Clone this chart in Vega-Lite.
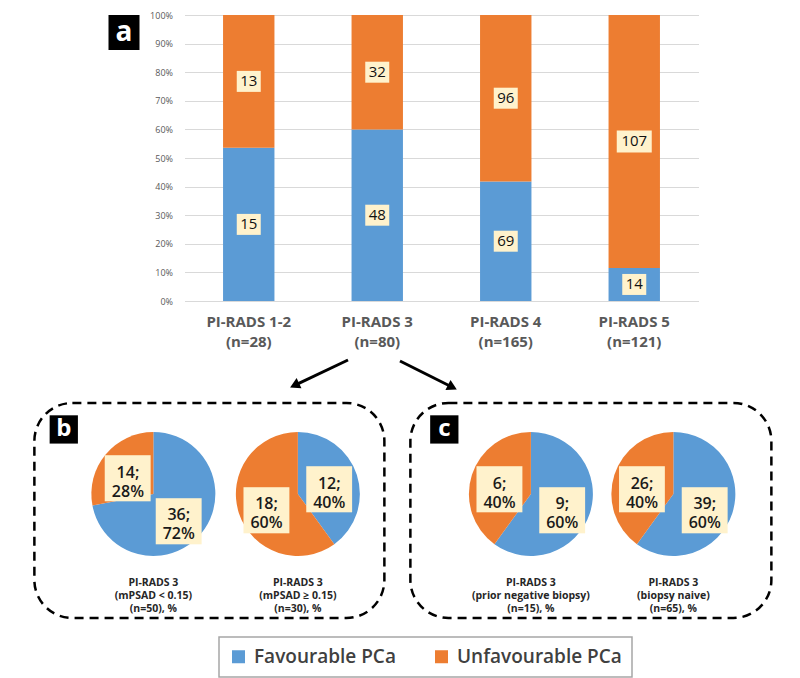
{
  "$schema": "https://vega.github.io/schema/vega-lite/v6.json",
  "background": "white",
  "padding": {"left": 33, "top": 11, "right": 0, "bottom": 0},
  "spacing": 0,
  "center": true,
  "datasets": {
    "bars": [
      {"category": "PI-RADS 1-2 (n=28)", "outcome": "Favourable PCa", "count": 15},
      {"category": "PI-RADS 1-2 (n=28)", "outcome": "Unfavourable PCa", "count": 13},
      {"category": "PI-RADS 3 (n=80)", "outcome": "Favourable PCa", "count": 48},
      {"category": "PI-RADS 3 (n=80)", "outcome": "Unfavourable PCa", "count": 32},
      {"category": "PI-RADS 4 (n=165)", "outcome": "Favourable PCa", "count": 69},
      {"category": "PI-RADS 4 (n=165)", "outcome": "Unfavourable PCa", "count": 96},
      {"category": "PI-RADS 5 (n=121)", "outcome": "Favourable PCa", "count": 14},
      {"category": "PI-RADS 5 (n=121)", "outcome": "Unfavourable PCa", "count": 107}
    ],
    "pieB": [
      {"pie": "mPSAD < 0.15", "caption": "PI-RADS 3\n(mPSAD < 0.15)\n(n=50), %", "outcome": "Favourable PCa", "count": 36, "label": "36;\n72%"},
      {"pie": "mPSAD < 0.15", "caption": "PI-RADS 3\n(mPSAD < 0.15)\n(n=50), %", "outcome": "Unfavourable PCa", "count": 14, "label": "14;\n28%"},
      {"pie": "mPSAD ≥ 0.15", "caption": "PI-RADS 3\n(mPSAD ≥ 0.15)\n(n=30), %", "outcome": "Favourable PCa", "count": 12, "label": "12;\n40%"},
      {"pie": "mPSAD ≥ 0.15", "caption": "PI-RADS 3\n(mPSAD ≥ 0.15)\n(n=30), %", "outcome": "Unfavourable PCa", "count": 18, "label": "18;\n60%"}
    ],
    "pieC": [
      {"pie": "prior negative biopsy", "caption": "PI-RADS 3\n(prior negative biopsy)\n(n=15), %", "outcome": "Favourable PCa", "count": 9, "label": "9;\n60%"},
      {"pie": "prior negative biopsy", "caption": "PI-RADS 3\n(prior negative biopsy)\n(n=15), %", "outcome": "Unfavourable PCa", "count": 6, "label": "6;\n40%"},
      {"pie": "biopsy naive", "caption": "PI-RADS 3\n(biopsy naive)\n(n=65), %", "outcome": "Favourable PCa", "count": 39, "label": "39;\n60%"},
      {"pie": "biopsy naive", "caption": "PI-RADS 3\n(biopsy naive)\n(n=65), %", "outcome": "Unfavourable PCa", "count": 26, "label": "26;\n40%"}
    ]
  },
  "vconcat": [
    {
      "spacing": 10,
      "hconcat": [
        {
          "width": 31, "height": 35,
          "view": {"fill": "black", "stroke": null},
          "data": {"values": [{"panel": "a"}]},
          "mark": {"type": "text", "color": "white", "fontSize": 28, "fontWeight": "bold", "font": "Open Sans"},
          "encoding": {"text": {"field": "panel"}}
        },
        {
          "width": 514, "height": 286,
          "data": {"name": "bars"},
          "encoding": {
            "x": {"field": "category", "type": "nominal", "sort": null,
              "scale": {"paddingInner": 0.6, "paddingOuter": 0.3},
              "axis": {"title": null, "domain": false, "ticks": false, "labelAngle": 0, "labelFontSize": 15, "labelFontWeight": "bold", "labelColor": "#595959", "labelPadding": 13, "labelLineHeight": 20,
                "labelExpr": "[slice(datum.label, 0, indexof(datum.label, ' (')), slice(datum.label, indexof(datum.label, ' (') + 1)]"}},
            "order": {"field": "outcome", "sort": "ascending"}
          },
          "layer": [
            {
              "mark": {"type": "bar"},
              "encoding": {
                "y": {"field": "count", "type": "quantitative", "stack": "normalize", "scale": {"domain": [0, 1], "nice": false},
                  "axis": {"title": null, "format": ".0%", "tickCount": 10, "labelOverlap": false, "labelFlush": false, "domain": false, "ticks": false, "labelFontSize": 9, "labelColor": "#595959", "labelPadding": 12, "gridColor": "#D9D9D9"}},
                "color": {"field": "outcome", "type": "nominal", "title": null, "scale": {"domain": ["Favourable PCa", "Unfavourable PCa"], "range": ["#5B9BD5", "#ED7D31"]}}
              }
            },
            {
              "mark": {"type": "point", "filled": true, "opacity": 1, "color": "#FFF2CC", "strokeWidth": 0, "size": 100},
              "encoding": {
                "y": {"field": "count", "type": "quantitative", "stack": "normalize", "bandPosition": 0.5},
                "shape": {"condition": {"test": "datum.count >= 100", "value": "M-3.5,-2.2H3.5V2.2H-3.5Z"}, "value": "M-2.4,-2.1H2.4V2.1H-2.4Z"}
              }
            },
            {
              "mark": {"type": "text", "fontSize": 15, "color": "#111111", "baseline": "middle"},
              "encoding": {
                "y": {"field": "count", "type": "quantitative", "stack": "normalize", "bandPosition": 0.5},
                "text": {"field": "count", "type": "quantitative"}
              }
            }
          ]
        }
      ]
    },
    {
      "width": 733, "height": 52,
      "data": {"values": [{"arrow": "to panel b"}, {"arrow": "to panel c"}]},
      "layer": [
        {
          "transform": [{"filter": "datum.arrow == 'to panel b'"}],
          "mark": {"type": "rule", "strokeWidth": 3, "color": "black"},
          "encoding": {
            "x": {"datum": 0.4243, "type": "quantitative", "scale": {"domain": [0, 1]}, "axis": null},
            "x2": {"datum": 0.3514},
            "y": {"datum": 0.2115, "type": "quantitative", "scale": {"domain": [0, 1], "reverse": true}, "axis": null},
            "y2": {"datum": 0.698}
          }
        },
        {
          "transform": [{"filter": "datum.arrow == 'to panel b'"}],
          "mark": {"type": "point", "shape": "triangle-up", "angle": 244.7, "size": 130, "filled": true, "opacity": 1, "color": "black"},
          "encoding": {
            "x": {"datum": 0.3514, "type": "quantitative"},
            "y": {"datum": 0.698, "type": "quantitative"}
          }
        },
        {
          "transform": [{"filter": "datum.arrow == 'to panel c'"}],
          "mark": {"type": "rule", "strokeWidth": 3, "color": "black"},
          "encoding": {
            "x": {"datum": 0.4952, "type": "quantitative"},
            "x2": {"datum": 0.5667},
            "y": {"datum": 0.231, "type": "quantitative"},
            "y2": {"datum": 0.735}
          }
        },
        {
          "transform": [{"filter": "datum.arrow == 'to panel c'"}],
          "mark": {"type": "point", "shape": "triangle-up", "angle": 116.6, "size": 130, "filled": true, "opacity": 1, "color": "black"},
          "encoding": {
            "x": {"datum": 0.5667, "type": "quantitative"},
            "y": {"datum": 0.735, "type": "quantitative"}
          }
        }
      ]
    },
    {
      "spacing": 22,
      "hconcat": [
        {
          "width": 350, "height": 215,
          "view": {"stroke": "black", "strokeWidth": 2.5, "strokeDash": [9, 6], "cornerRadius": 38},
          "resolve": {"scale": {"x": "independent", "y": "independent"}},
          "layer": [
            {
              "data": {"name": "pieB"},
              "encoding": {
                "x": {"field": "pie", "type": "nominal", "scale": {"domain": ["mPSAD < 0.15", "mPSAD ≥ 0.15"], "padding": 0.711, "align": 0.579}, "axis": null},
                "y": {"datum": "pie", "type": "nominal", "scale": {"domain": ["pie", "caption"], "padding": 0.708, "align": 0.722}, "axis": null},
                "order": {"field": "outcome", "sort": "ascending"},
                "detail": {"field": "outcome"}
              },
              "layer": [
                {"transform": [{"filter": "datum.pie == 'mPSAD < 0.15'"}], "mark": {"type": "arc", "outerRadius": 62},
                  "encoding": {"theta": {"field": "count", "type": "quantitative", "stack": "normalize", "scale": {"domain": [0, 1]}},
                    "color": {"field": "outcome", "type": "nominal", "title": null, "scale": {"domain": ["Favourable PCa", "Unfavourable PCa"], "range": ["#5B9BD5", "#ED7D31"]}}}},
                {"transform": [{"filter": "datum.pie == 'mPSAD ≥ 0.15'"}], "mark": {"type": "arc", "outerRadius": 62},
                  "encoding": {"theta": {"field": "count", "type": "quantitative", "stack": "normalize"},
                    "color": {"field": "outcome", "type": "nominal", "title": null}}},
                {"transform": [{"filter": "datum.pie == 'mPSAD < 0.15'"}], "mark": {"type": "text", "text": "■", "radius": 33, "fontSize": 60, "dy": 3.5, "font": "DejaVu Sans", "color": "#FFF2CC", "baseline": "middle"},
                  "encoding": {"theta": {"field": "count", "type": "quantitative", "stack": "normalize"}}},
                {"transform": [{"filter": "datum.pie == 'mPSAD ≥ 0.15'"}], "mark": {"type": "text", "text": "■", "radius": 33, "fontSize": 60, "dy": 3.5, "font": "DejaVu Sans", "color": "#FFF2CC", "baseline": "middle"},
                  "encoding": {"theta": {"field": "count", "type": "quantitative", "stack": "normalize"}}},
                {"transform": [{"filter": "datum.pie == 'mPSAD < 0.15'"}], "mark": {"type": "text", "radius": 33, "fontSize": 16, "fontWeight": 600, "lineBreak": "\n", "lineHeight": 19, "color": "#1a1a1a", "baseline": "middle"},
                  "encoding": {"theta": {"field": "count", "type": "quantitative", "stack": "normalize"}, "text": {"field": "label"}}},
                {"transform": [{"filter": "datum.pie == 'mPSAD ≥ 0.15'"}], "mark": {"type": "text", "radius": 33, "fontSize": 16, "fontWeight": 600, "lineBreak": "\n", "lineHeight": 19, "color": "#1a1a1a", "baseline": "middle"},
                  "encoding": {"theta": {"field": "count", "type": "quantitative", "stack": "normalize"}, "text": {"field": "label"}}},
                {"transform": [{"filter": "datum.outcome == 'Favourable PCa'"}], "mark": {"type": "text", "fontSize": 10.5, "fontWeight": "bold", "lineBreak": "\n", "lineHeight": 13, "color": "#262626", "baseline": "middle"},
                  "encoding": {"y": {"datum": "caption", "type": "nominal"}, "text": {"field": "caption"}}}
              ]
            },
            {
              "data": {"values": [{"panel": "b"}]},
              "encoding": {
                "x": {"datum": 0.084, "type": "quantitative", "scale": {"domain": [0, 1]}, "axis": null},
                "y": {"datum": 0.123, "type": "quantitative", "scale": {"domain": [0, 1], "reverse": true}, "axis": null}
              },
              "layer": [
                {"mark": {"type": "point", "shape": "square", "filled": true, "opacity": 1, "color": "black", "size": 800}},
                {"mark": {"type": "text", "color": "white", "fontSize": 24, "fontWeight": "bold", "baseline": "middle"}, "encoding": {"text": {"field": "panel"}}}
              ]
            }
          ]
        },
        {
          "width": 361, "height": 215,
          "view": {"stroke": "black", "strokeWidth": 2.5, "strokeDash": [9, 6], "cornerRadius": 38},
          "resolve": {"scale": {"x": "independent", "y": "independent"}},
          "layer": [
            {
              "data": {"name": "pieC"},
              "encoding": {
                "x": {"field": "pie", "type": "nominal", "scale": {"domain": ["prior negative biopsy", "biopsy naive"], "padding": 0.767, "align": 0.5515}, "axis": null},
                "y": {"datum": "pie", "type": "nominal", "scale": {"domain": ["pie", "caption"], "padding": 0.708, "align": 0.722}, "axis": null},
                "order": {"field": "outcome", "sort": "ascending"},
                "detail": {"field": "outcome"}
              },
              "layer": [
                {"transform": [{"filter": "datum.pie == 'prior negative biopsy'"}], "mark": {"type": "arc", "outerRadius": 62},
                  "encoding": {"theta": {"field": "count", "type": "quantitative", "stack": "normalize"},
                    "color": {"field": "outcome", "type": "nominal", "title": null}}},
                {"transform": [{"filter": "datum.pie == 'biopsy naive'"}], "mark": {"type": "arc", "outerRadius": 62},
                  "encoding": {"theta": {"field": "count", "type": "quantitative", "stack": "normalize"},
                    "color": {"field": "outcome", "type": "nominal", "title": null}}},
                {"transform": [{"filter": "datum.pie == 'prior negative biopsy'"}], "mark": {"type": "text", "text": "■", "radius": 33, "fontSize": 60, "dy": 3.5, "font": "DejaVu Sans", "color": "#FFF2CC", "baseline": "middle"},
                  "encoding": {"theta": {"field": "count", "type": "quantitative", "stack": "normalize"}}},
                {"transform": [{"filter": "datum.pie == 'biopsy naive'"}], "mark": {"type": "text", "text": "■", "radius": 33, "fontSize": 60, "dy": 3.5, "font": "DejaVu Sans", "color": "#FFF2CC", "baseline": "middle"},
                  "encoding": {"theta": {"field": "count", "type": "quantitative", "stack": "normalize"}}},
                {"transform": [{"filter": "datum.pie == 'prior negative biopsy'"}], "mark": {"type": "text", "radius": 33, "fontSize": 16, "fontWeight": 600, "lineBreak": "\n", "lineHeight": 19, "color": "#1a1a1a", "baseline": "middle"},
                  "encoding": {"theta": {"field": "count", "type": "quantitative", "stack": "normalize"}, "text": {"field": "label"}}},
                {"transform": [{"filter": "datum.pie == 'biopsy naive'"}], "mark": {"type": "text", "radius": 33, "fontSize": 16, "fontWeight": 600, "lineBreak": "\n", "lineHeight": 19, "color": "#1a1a1a", "baseline": "middle"},
                  "encoding": {"theta": {"field": "count", "type": "quantitative", "stack": "normalize"}, "text": {"field": "label"}}},
                {"transform": [{"filter": "datum.outcome == 'Favourable PCa'"}], "mark": {"type": "text", "fontSize": 10.5, "fontWeight": "bold", "lineBreak": "\n", "lineHeight": 13, "color": "#262626", "baseline": "middle"},
                  "encoding": {"y": {"datum": "caption", "type": "nominal"}, "text": {"field": "caption"}}}
              ]
            },
            {
              "data": {"values": [{"panel": "c"}]},
              "encoding": {
                "x": {"datum": 0.094, "type": "quantitative", "scale": {"domain": [0, 1]}, "axis": null},
                "y": {"datum": 0.123, "type": "quantitative", "scale": {"domain": [0, 1], "reverse": true}, "axis": null}
              },
              "layer": [
                {"mark": {"type": "point", "shape": "square", "filled": true, "opacity": 1, "color": "black", "size": 800}},
                {"mark": {"type": "text", "color": "white", "fontSize": 24, "fontWeight": "bold", "baseline": "middle"}, "encoding": {"text": {"field": "panel"}}}
              ]
            }
          ]
        }
      ]
    }
  ],
  "config": {
    "view": {"stroke": null},
    "font": "Open Sans",
    "axis": {"labelOverlap": false},
    "legend": {
      "orient": "none", "legendX": 185, "legendY": 622, "direction": "horizontal",
      "symbolType": "square", "symbolSize": 169, "symbolStrokeWidth": 0, "symbolOpacity": 1,
      "labelFontSize": 19, "labelFont": "Open Sans", "labelFontWeight": 600, "labelColor": "#404040",
      "labelOffset": 6, "columnPadding": 36, "padding": 10, "labelLimit": 300,
      "strokeColor": "#A6A6A6", "strokeWidth": 1.5, "fillColor": "white"
    }
  }
}
